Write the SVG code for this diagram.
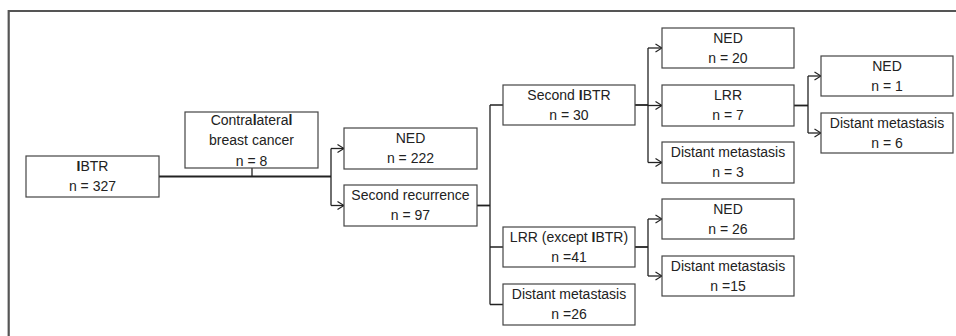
<svg xmlns="http://www.w3.org/2000/svg" width="956" height="336" viewBox="0 0 956 336">
  <defs>
    <style>
      .frame { fill: none; stroke: #555; stroke-width: 2.2; }
      .box { fill: #fff; stroke: #444; stroke-width: 1.2; }
      .lbl { font-family: "Liberation Sans", Arial, sans-serif; font-size: 14px; fill: #222; text-anchor: middle; }
      .b { font-weight: bold; }
      .ln { fill: none; stroke: #222; stroke-width: 1.3; }
      .trunk { fill: none; stroke: #222; stroke-width: 1.8; }
      .arr { fill: none; stroke: #222; stroke-width: 1.3; marker-end: url(#chev); }
    </style>
    <marker id="chev" viewBox="0 0 8 10" refX="7.5" refY="5" markerWidth="8" markerHeight="10" markerUnits="userSpaceOnUse" orient="auto">
      <polyline points="1,1 7.5,5 1,9" fill="none" stroke="#222" stroke-width="1.2"/>
    </marker>
  </defs>

  <rect width="956" height="336" fill="#fff"/>
  <path class="frame" d="M8.7,336 V11 H956"/>

  <!-- connectors -->
  <g id="connectors">
    <!-- IBTR split -->
    <path class="trunk" d="M159,176.5 H331"/>
    <path class="ln" d="M252,168 V176.5"/>
    <path class="ln" d="M331,148.5 V205.5"/>
    <path class="arr" d="M331,148.5 H344"/>
    <path class="arr" d="M331,205.5 H344"/>
    <!-- second recurrence split -->
    <path class="trunk" d="M477,205.5 H490"/>
    <path class="ln" d="M490,105 V304.5 M490,105 H503 M490,247 H503 M490,304.5 H503"/>
    <!-- second IBTR split -->
    <path class="trunk" d="M635,105 H648"/>
    <path class="ln" d="M648,48 V162.5"/>
    <path class="arr" d="M648,48 H662"/>
    <path class="arr" d="M648,105.5 H662"/>
    <path class="arr" d="M648,162.5 H662"/>
    <!-- LRR (except IBTR) split -->
    <path class="trunk" d="M635,247 H648"/>
    <path class="ln" d="M648,219 V276"/>
    <path class="arr" d="M648,219 H662"/>
    <path class="arr" d="M648,276 H662"/>
    <!-- LRR split -->
    <path class="trunk" d="M794,105.5 H808"/>
    <path class="ln" d="M808,76 V133"/>
    <path class="arr" d="M808,76 H821"/>
    <path class="arr" d="M808,133 H821"/>
  </g>

  <g id="ibtr">
    <rect class="box" x="26" y="156" width="133" height="41"/>
    <text class="lbl" x="92.5" y="171"><tspan class="b">I</tspan>BTR</text>
    <text class="lbl" x="92.5" y="191">n = 327</text>
  </g>
  <g id="contralateral">
    <rect class="box" x="185" y="112" width="133" height="56"/>
    <text class="lbl" x="251.5" y="124.5">Contra<tspan class="b">l</tspan>atera<tspan class="b">l</tspan></text>
    <text class="lbl" x="251.5" y="145">breast cancer</text>
    <text class="lbl" x="251.5" y="165.5">n = 8</text>
  </g>
  <g id="ned-222">
    <rect class="box" x="344" y="128" width="133" height="41"/>
    <text class="lbl" x="410.5" y="142.5">NED</text>
    <text class="lbl" x="410.5" y="163">n = 222</text>
  </g>
  <g id="second-recurrence">
    <rect class="box" x="344" y="185" width="133" height="41"/>
    <text class="lbl" x="410.5" y="199.5">Second recurrence</text>
    <text class="lbl" x="410.5" y="220">n = 97</text>
  </g>
  <g id="second-ibtr">
    <rect class="box" x="503" y="85" width="132" height="40"/>
    <text class="lbl" x="569" y="99.5">Second <tspan class="b">I</tspan>BTR</text>
    <text class="lbl" x="569" y="120">n = 30</text>
  </g>
  <g id="lrr-except">
    <rect class="box" x="503" y="227" width="132" height="40"/>
    <text class="lbl" x="569" y="241.5">LRR (except <tspan class="b">I</tspan>BTR)</text>
    <text class="lbl" x="569" y="262">n =41</text>
  </g>
  <g id="distant-26">
    <rect class="box" x="503" y="284" width="132" height="41"/>
    <text class="lbl" x="569" y="298.5">Distant metastasis</text>
    <text class="lbl" x="569" y="319">n =26</text>
  </g>
  <g id="ned-20">
    <rect class="box" x="662" y="28" width="132" height="40"/>
    <text class="lbl" x="728" y="42.5">NED</text>
    <text class="lbl" x="728" y="63">n = 20</text>
  </g>
  <g id="lrr-7">
    <rect class="box" x="662" y="85" width="132" height="41"/>
    <text class="lbl" x="728" y="99.5">LRR</text>
    <text class="lbl" x="728" y="120">n = 7</text>
  </g>
  <g id="distant-3">
    <rect class="box" x="662" y="142" width="132" height="41"/>
    <text class="lbl" x="728" y="156.5">Distant metastasis</text>
    <text class="lbl" x="728" y="177">n = 3</text>
  </g>
  <g id="ned-26">
    <rect class="box" x="662" y="199" width="132" height="40"/>
    <text class="lbl" x="728" y="213.5">NED</text>
    <text class="lbl" x="728" y="234">n = 26</text>
  </g>
  <g id="distant-15">
    <rect class="box" x="662" y="256" width="132" height="40"/>
    <text class="lbl" x="728" y="270.5">Distant metastasis</text>
    <text class="lbl" x="728" y="291">n =15</text>
  </g>
  <g id="ned-1">
    <rect class="box" x="821" y="56" width="132" height="40"/>
    <text class="lbl" x="887" y="70.5">NED</text>
    <text class="lbl" x="887" y="91">n = 1</text>
  </g>
  <g id="distant-6">
    <rect class="box" x="821" y="113" width="132" height="40"/>
    <text class="lbl" x="887" y="127.5">Distant metastasis</text>
    <text class="lbl" x="887" y="148">n = 6</text>
  </g>
</svg>
